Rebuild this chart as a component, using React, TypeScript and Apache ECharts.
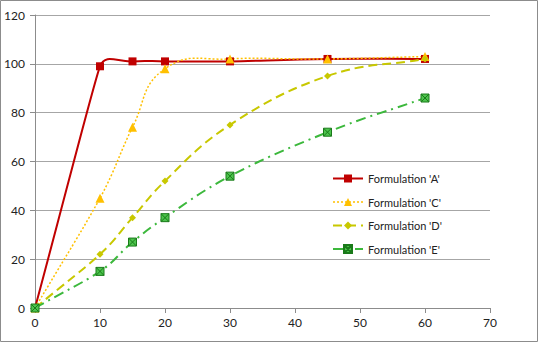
import React, { useEffect, useRef } from "react";
import * as echarts from "echarts";

const timePoints = [0, 10, 15, 20, 30, 45, 60];
const seriesA = [0, 99, 101, 101, 101, 102, 102];
const seriesC = [0, 45, 74, 98, 102, 102, 103];
const seriesD = [0, 22, 37, 52, 75, 95, 102];
const seriesE = [0, 15, 27, 37, 54, 72, 86];
const seriesNames = ["Formulation 'A'", "Formulation 'C'", "Formulation 'D'", "Formulation 'E'"];

const pairs = (ys: number[]) => timePoints.map((x, i) => [x, ys[i]]);

const FONT = "Lato, 'Open Sans', sans-serif";
const K = 0.45;

const COLORS = ["#c00000", "#ffc000", "#c8c800", "#3cb83c"];
const LINE_STYLES: any[] = [
  { color: COLORS[0], width: 2, type: "solid" },
  { color: COLORS[1], width: 1.5, type: [2, 2] },
  { color: COLORS[2], width: 2, type: [9, 5] },
  { color: COLORS[3], width: 2, type: [10, 5, 2, 5] },
];

// Excel-like smoothed path built in pixel space from library coordinates
function smoothPath(pts: number[][]) {
  const n = pts.length;
  const dist = (a: number[], b: number[]) => Math.hypot(b[0] - a[0], b[1] - a[1]);
  const tangents: number[][] = [];
  const handles: number[] = [];
  for (let i = 0; i < n; i++) {
    const prev = pts[Math.max(0, i - 1)];
    const next = pts[Math.min(n - 1, i + 1)];
    const tx = next[0] - prev[0];
    const ty = next[1] - prev[1];
    const len = Math.hypot(tx, ty) || 1;
    tangents.push([tx / len, ty / len]);
    const ds: number[] = [];
    if (i > 0) ds.push(dist(pts[i - 1], pts[i]));
    if (i < n - 1) ds.push(dist(pts[i], pts[i + 1]));
    handles.push(K * Math.min(...ds));
  }
  let d = `M${pts[0][0]},${pts[0][1]}`;
  for (let i = 0; i < n - 1; i++) {
    const p1 = pts[i];
    const p2 = pts[i + 1];
    const c1 = [p1[0] + tangents[i][0] * handles[i], p1[1] + tangents[i][1] * handles[i]];
    const c2 = [p2[0] - tangents[i + 1][0] * handles[i + 1], p2[1] - tangents[i + 1][1] * handles[i + 1]];
    d += ` C${c1[0]},${c1[1]} ${c2[0]},${c2[1]} ${p2[0]},${p2[1]}`;
  }
  return d;
}

function curveSeries(name: string, ys: number[], idx: number) {
  const ls = LINE_STYLES[idx];
  return {
    name: name + " curve",
    type: "custom",
    coordinateSystem: "cartesian2d",
    data: [[0, 0]],
    z: 2,
    silent: true,
    renderItem: (params: any, api: any) => {
      const pts = timePoints.map((x, i) => api.coord([x, ys[i]]));
      return {
        type: "path",
        shape: { pathData: smoothPath(pts) },
        style: {
          fill: "none",
          stroke: ls.color,
          lineWidth: ls.width,
          lineDash: Array.isArray(ls.type) ? ls.type : null,
        },
      };
    },
  };
}

export default function App() {
  const ref = useRef<HTMLDivElement>(null);
  useEffect(() => {
    document.body.style.margin = "0";
    const chart = echarts.init(ref.current!, null, { renderer: "svg" });
    const markerSeries = (name: string, ys: number[], idx: number, symbol: string, size: number, itemStyle: any) => ({
      name,
      type: "line",
      data: pairs(ys),
      symbol,
      symbolSize: size,
      z: 3,
      itemStyle,
      lineStyle: { ...LINE_STYLES[idx], opacity: 0 },
    });
    chart.setOption({
      animation: false,
      backgroundColor: "#ffffff",
      graphic: [
        {
          type: "rect",
          shape: { x: 0.5, y: 0.5, width: 537, height: 341 },
          style: { fill: "none", stroke: "#8c8c8c", lineWidth: 1 },
          silent: true,
        },
      ],
      grid: { left: 35, right: 48, top: 15, bottom: 34 },
      legend: {
        orient: "vertical",
        left: 327,
        top: 168,
        itemWidth: 30,
        itemHeight: 10,
        itemGap: 12.5,
        textStyle: { fontFamily: FONT, fontSize: 11, color: "#222" },
        data: seriesNames.map((n, i) => ({ name: n, lineStyle: { ...LINE_STYLES[i], opacity: 1 } })),
      },
      xAxis: {
        type: "value",
        min: 0,
        max: 70,
        interval: 10,
        axisLine: { lineStyle: { color: "#8c8c8c" } },
        axisTick: { show: true, length: 5, lineStyle: { color: "#8c8c8c" } },
        axisLabel: { fontFamily: FONT, fontSize: 12, color: "#222", margin: 8 },
        splitLine: { show: false },
      },
      yAxis: {
        type: "value",
        min: 0,
        max: 120,
        interval: 20,
        axisLine: { show: true, lineStyle: { color: "#8c8c8c" } },
        axisTick: { show: true, length: 5, lineStyle: { color: "#8c8c8c" } },
        axisLabel: { fontFamily: FONT, fontSize: 12, color: "#222", margin: 10 },
        splitLine: { show: true, lineStyle: { color: "#a6a6a6" } },
      },
      series: [
        curveSeries(seriesNames[0], seriesA, 0),
        curveSeries(seriesNames[1], seriesC, 1),
        curveSeries(seriesNames[2], seriesD, 2),
        curveSeries(seriesNames[3], seriesE, 3),
        markerSeries(seriesNames[0], seriesA, 0, "rect", 8, { color: COLORS[0] }),
        markerSeries(seriesNames[1], seriesC, 1, "triangle", 9, { color: COLORS[1] }),
        markerSeries(seriesNames[2], seriesD, 2, "diamond", 7, { color: COLORS[2] }),
        markerSeries(
          seriesNames[3],
          seriesE,
          3,
          "path://M0 0 L10 0 L10 10 L0 10 Z M0 0 L10 10 M10 0 L0 10",
          8,
          { color: "#4cc44c", borderColor: "#1a7a1a", borderWidth: 1 }
        ),
      ],
    });
    return () => chart.dispose();
  }, []);
  return <div ref={ref} style={{ width: 538, height: 342 }} />;
}
